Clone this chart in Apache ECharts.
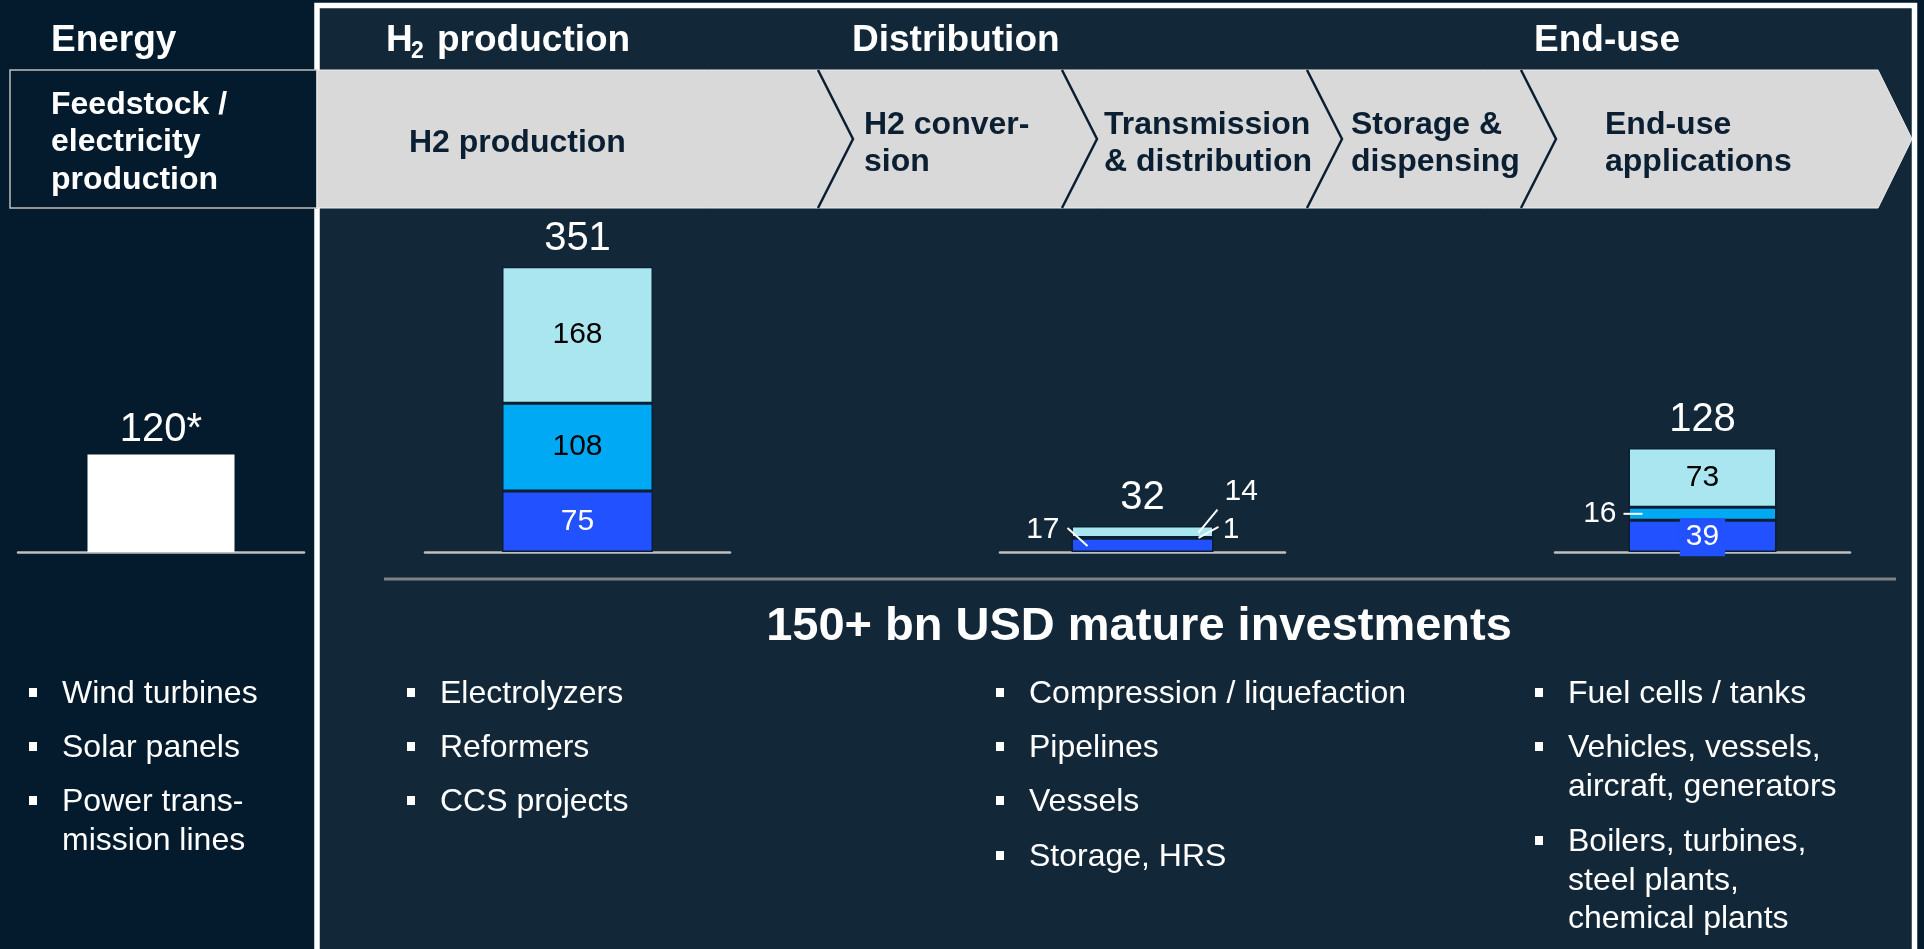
<!DOCTYPE html>
<html>
<head>
<meta charset="utf-8">
<script src="https://cdn.jsdelivr.net/npm/echarts@6/dist/echarts.min.js"></script>
<style>
html,body{margin:0;padding:0;background:#041b2d;}
#chart{width:1924px;height:949px;}
</style>
</head>
<body>
<div id="chart"></div>
<script>
// ---- data ----
const stages = ['Feedstock / electricity production', 'H2 production', 'Distribution', 'End-use'];
const energyValues = [120];
const productionValues = [75, 108, 168];
const distributionValues = [17, 1, 14];
const endUseValues = [39, 16, 73];
const totalMarks = ['*', '', '', ''];
const headerLabels = ['Energy', 'Distribution', 'End-use'];
const stepLabels = [
  ['H2 production'],
  ['H2 conver-', 'sion'],
  ['Transmission', '& distribution'],
  ['Storage &', 'dispensing'],
  ['End-use', 'applications']
];
const feedstockLabel = ['Feedstock /', 'electricity', 'production'];
const summaryLabel = '150+ bn USD mature investments';
const bulletsEnergy = [['Wind turbines'], ['Solar panels'], ['Power trans-', 'mission lines']];
const bulletsProduction = [['Electrolyzers'], ['Reformers'], ['CCS projects']];
const bulletsDistribution = [['Compression / liquefaction'], ['Pipelines'], ['Vessels'], ['Storage, HRS']];
const bulletsEndUse = [['Fuel cells / tanks'], ['Vehicles, vessels,', 'aircraft, generators'], ['Boilers, turbines,', 'steel plants,', 'chemical plants']];

// ---- styling ----
const FONT = '"Liberation Sans", Arial, sans-serif';
const C_DARK = '#2251ff', C_MID = '#00a9f4', C_LIGHT = '#aae6ef';
const BORDER = '#0b1f33';
const segColors = [C_DARK, C_MID, C_LIGHT];

const grids = [
  {left: 18, right: 1924 - 304, top: 227, height: 325, barWidth: 147},
  {left: 425, right: 1924 - 730, top: 227, height: 325, barWidth: 151},
  {left: 1000, right: 1924 - 1285, top: 227, height: 325, barWidth: 142},
  {left: 1555, right: 1924 - 1850, top: 227, height: 325, barWidth: 148}
];

const chart = echarts.init(document.getElementById('chart'));

const xAxes = grids.map((g, i) => ({
  type: 'category', gridIndex: i, data: [stages[i]],
  axisLine: {show: true, lineStyle: {color: '#bfbfbf', width: 2.5}},
  axisTick: {show: false}, axisLabel: {show: false}, splitLine: {show: false}
}));
const yAxes = grids.map((g, i) => ({
  type: 'value', gridIndex: i, min: 0, max: 400, show: false, splitLine: {show: false}
}));

const segLabelBase = {show: true, fontFamily: FONT, fontSize: 30};
// [label, labelLayout shift]
const segLabels = [
  null,
  [
    [{...segLabelBase, position: 'inside', color: '#ffffff'}, null],
    [{...segLabelBase, position: 'inside', color: '#000000'}, null],
    [{...segLabelBase, position: 'inside', color: '#000000'}, null]
  ],
  [
    [{...segLabelBase, position: 'left', distance: 12, color: '#ffffff'}, {dy: -15}],
    [{...segLabelBase, position: 'right', distance: 9, color: '#ffffff'}, {dy: -8}],
    [{...segLabelBase, position: 'right', distance: 11, color: '#ffffff'}, {dy: -40}]
  ],
  [
    [{...segLabelBase, position: 'inside', color: '#ffffff', backgroundColor: C_DARK, padding: [5, 6, 3, 6]}, {dy: 1}],
    [{...segLabelBase, position: 'left', distance: 12, color: '#ffffff'}, null],
    [{...segLabelBase, position: 'inside', color: '#000000'}, null]
  ]
];

const series = [];
// energy bar
series.push({
  type: 'bar', xAxisIndex: 0, yAxisIndex: 0, stack: 's0', barWidth: grids[0].barWidth,
  data: [energyValues[0]], itemStyle: {color: '#ffffff'}, label: {show: false}, silent: true
});
[productionValues, distributionValues, endUseValues].forEach((vals, k) => {
  const gi = k + 1;
  vals.forEach((v, j) => {
    const s = {
      type: 'bar', xAxisIndex: gi, yAxisIndex: gi, stack: 's' + gi, barWidth: grids[gi].barWidth,
      data: [v],
      itemStyle: {color: segColors[j], borderColor: BORDER, borderWidth: 1.5},
      label: segLabels[gi][j][0], silent: true, z: 2
    };
    if (segLabels[gi][j][1]) s.labelLayout = segLabels[gi][j][1];
    series.push(s);
  });
});
// totals: a transparent, unstacked bar over each stack carrying the total label
const allVals = [energyValues, productionValues, distributionValues, endUseValues];
const totalDist = [5, 8, 8, 8];
allVals.forEach((vals, gi) => {
  const total = vals.reduce((a, b) => a + b, 0);
  series.push({
    type: 'bar', xAxisIndex: gi, yAxisIndex: gi, data: [total], barWidth: grids[gi].barWidth, barGap: '-100%',
    itemStyle: {color: 'rgba(0,0,0,0)'}, silent: true, z: 3,
    label: {show: true, position: 'top', distance: totalDist[gi], color: '#ffffff', opacity: 1, fontFamily: FONT, fontSize: 40,
      formatter: () => total + totalMarks[gi]}
  });
});

// ---- graphics (layout) ----
const g = [];
function txt(text, x, y, size, weight, color, align) {
  g.push({type: 'text', z: 10, style: {text, x, y, fill: color, font: (weight || 'normal') + ' ' + size + 'px ' + FONT,
    textAlign: align || 'left', textVerticalAlign: 'middle', align: align || 'left', verticalAlign: 'middle'}});
}
// main panel and frame
g.push({type: 'rect', z: -20, shape: {x: 317, y: 5, width: 1597, height: 960}, style: {fill: '#122738'}});
g.push({type: 'rect', z: -19, shape: {x: 317, y: 5.5, width: 1597.5, height: 960}, style: {fill: 'none', stroke: '#ffffff', lineWidth: 5.5}});
// feedstock box
g.push({type: 'rect', z: -18, shape: {x: 10, y: 70, width: 307, height: 138}, style: {fill: '#041b2d', stroke: '#bfbfbf', lineWidth: 1.5}});
// chevron band
g.push({type: 'polygon', z: -17, shape: {points: [[317, 70], [1878, 70], [1912, 139], [1878, 208], [317, 208]]},
  style: {fill: '#d9d9d9', stroke: '#eeeeee', lineWidth: 1}});
[818, 1062, 1307, 1521].forEach(x0 => {
  g.push({type: 'polyline', z: -16, shape: {points: [[x0, 70], [x0 + 35, 139], [x0, 208]]},
    style: {stroke: BORDER, lineWidth: 2.5, fill: 'none'}});
});
// headers
txt(headerLabels[0], 51, 41, 37, 'bold', '#ffffff');
txt('H', 386, 41, 37, 'bold', '#ffffff');
txt('2', 411, 52, 23, 'bold', '#ffffff');
txt('production', 437, 41, 37, 'bold', '#ffffff');
txt(headerLabels[1], 852, 41, 37, 'bold', '#ffffff');
txt(headerLabels[2], 1534, 41, 37, 'bold', '#ffffff');
// feedstock
feedstockLabel.forEach((t, i) => txt(t, 51, 105 + i * 37.5, 32, 'bold', '#ffffff'));
// step labels
const stepX = [409, 864, 1104, 1351, 1605];
stepLabels.forEach((lines, i) => {
  const y0 = lines.length === 1 ? 143 : 125;
  lines.forEach((t, j) => txt(t, stepX[i], y0 + j * 37, 32, 'bold', '#0b1f33'));
});
// separator + summary
g.push({type: 'line', z: 5, shape: {x1: 384, y1: 579, x2: 1896, y2: 579}, style: {stroke: '#808080', lineWidth: 3}});
txt(summaryLabel, 1139, 627, 47, 'bold', '#ffffff', 'center');
// bullets
function bulletCol(items, bx, tx, ys) {
  let k = 0;
  items.forEach((lines) => {
    g.push({type: 'rect', z: 10, shape: {x: bx - 4, y: ys[k] - 4, width: 8, height: 9}, style: {fill: '#ffffff'}});
    lines.forEach(t => { txt(t, tx, ys[k] + 2, 32, 'normal', '#ffffff'); k++; });
  });
}
bulletCol(bulletsEnergy, 33, 62, [692, 746, 800, 839]);
bulletCol(bulletsProduction, 411, 440, [692, 746, 800]);
bulletCol(bulletsDistribution, 1000, 1029, [692, 746, 800, 855]);
bulletCol(bulletsEndUse, 1539, 1568, [692, 746, 785, 840, 879, 917]);

chart.setOption({
  backgroundColor: '#041b2d',
  animation: false,
  grid: grids.map(gr => ({left: gr.left, right: gr.right, top: gr.top, height: gr.height, containLabel: false})),
  xAxis: xAxes,
  yAxis: yAxes,
  series: series,
  graphic: {elements: g}
});

// leader lines computed from the axes' scales
function pt(gi, v) { return chart.convertToPixel({gridIndex: gi}, [0, v]); }
const lines = [];
{
  const hw = grids[2].barWidth / 2;
  const d = distributionValues;
  const p17 = pt(2, d[0] / 2);
  const p1 = pt(2, d[0] + d[1] / 2);
  const p14 = pt(2, d[0] + d[1] + d[2] / 2);
  const L = p17[0] - hw, R = p17[0] + hw;
  lines.push([[L - 4, p17[1] - 17], [L + 16, p17[1] + 1]]);
  lines.push([[R + 5, p1[1] - 11], [R - 15, p1[1]]]);
  lines.push([[R + 4, p14[1] - 22], [R - 15, p14[1] + 1]]);
  const hw4 = grids[3].barWidth / 2;
  const e = endUseValues;
  const p16 = pt(3, e[0] + e[1] / 2);
  const L4 = p16[0] - hw4;
  lines.push([[L4 - 5, p16[1]], [L4 + 14, p16[1]]]);
}
lines.forEach(l => g.push({type: 'line', z: 20, zlevel: 1, shape: {x1: l[0][0], y1: l[0][1], x2: l[1][0], y2: l[1][1]},
  style: {stroke: '#ffffff', lineWidth: 2}}));
chart.setOption({graphic: {elements: g}}, {replaceMerge: ['graphic']});
</script>
</body>
</html>
